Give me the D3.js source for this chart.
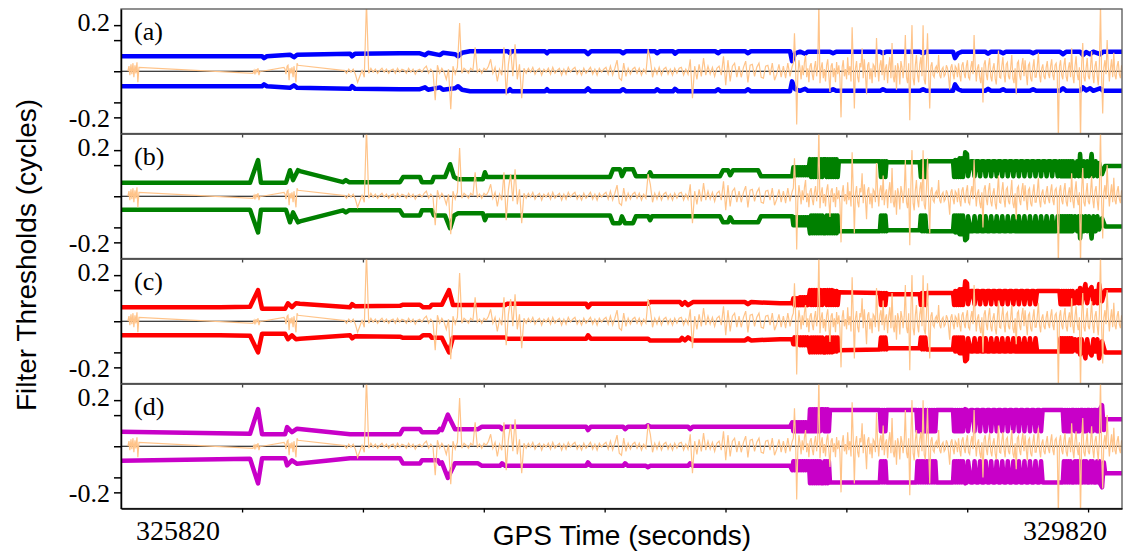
<!DOCTYPE html>
<html lang="en">
<head>
<meta charset="UTF-8">
<title>Filter Thresholds</title>
<script src="https://cdn.jsdelivr.net/npm/d3@7"></script>
<style>
  body { margin: 0; background: #fff; }
  svg { display: block; }
</style>
</head>
<body>
<svg id="chart" width="1124" height="556"></svg>
<script>
// panel names and threshold colours
const panelLabels = ['(a)', '(b)', '(c)', '(d)'];
const panelColors = ['#0000ff', '#008000', '#ff0000', '#c800c8'];

// axis ticks
const yTickValues = [-0.2, -0.135, 0, 0.135, 0.2];
const yLabelValues = [0.2, -0.2];
const xTickValues = [326109, 326654, 327199, 327744, 328289, 328834, 329379, 329924];
const xLabelValues = [325820, 329820];

// threshold half-widths [GPS time, cycles] (drawn as +v and -v)
const thresholdA = [
  [325563,0.065],[326199,0.065],[326208,0.057],[326221,0.065],[326325,0.072],[326343,0.061],[326357,0.072],
  [326596,0.076],[326605,0.065],[326618,0.076],[326821,0.078],[326911,0.078],[326934,0.07],[326948,0.08],
  [327002,0.07],[327015,0.08],[327069,0.074],[327083,0.065],[327101,0.08],[327137,0.087],[327308,0.087],
  [327317,0.078],[327326,0.087],[327475,0.087],[327484,0.078],[327493,0.087],[327655,0.087],[327669,0.074],
  [327683,0.087],[327813,0.087],[327827,0.078],[327841,0.087],[327971,0.087],[327980,0.078],[327994,0.087],
  [328052,0.087],[328061,0.076],[328075,0.087],[328242,0.087],[328255,0.078],[328269,0.087],[328377,0.087],
  [328391,0.078],[328404,0.087],[328580,0.087],[328589,0.044],[328603,0.078],[328625,0.085],[328648,0.076],
  [328661,0.085],[328760,0.085],[328774,0.078],[328788,0.085],[328986,0.085],[328999,0.078],[329013,0.085],
  [329166,0.085],[329180,0.078],[329194,0.085],[329315,0.085],[329324,0.057],[329338,0.078],[329356,0.085],
  [329460,0.085],[329473,0.076],[329487,0.085],[329527,0.085],[329541,0.078],[329554,0.085],[329662,0.085],
  [329676,0.078],[329690,0.085],[329797,0.085],[329811,0.074],[329825,0.085],[329888,0.085],[329901,0.07],
  [329915,0.083],[329933,0.074],[329947,0.085],[329978,0.074],[329992,0.085],[330077,0.085]
];

const thresholdB = [
  [325563,0.059],[326145,0.059],[326181,0.157],[326194,0.059],[326307,0.059],[326325,0.113],[326339,0.07],
  [326361,0.113],[326370,0.109],[326564,0.061],[326577,0.07],[326591,0.061],[326821,0.061],[326835,0.083],
  [326911,0.083],[326920,0.061],[326965,0.061],[326974,0.083],[327024,0.083],[327047,0.139],[327065,0.083],
  [327083,0.074],[327195,0.074],[327204,0.104],[327213,0.083],[327768,0.083],[327782,0.117],[327813,0.117],
  [327822,0.087],[327836,0.117],[327872,0.117],[327885,0.087],[327940,0.087],[327949,0.104],[327958,0.087],
  [328264,0.087],[328278,0.113],[328300,0.113],[328310,0.091],[328323,0.113],[328436,0.113],[328449,0.087],
  [328590,0.087],
  [328595,0.126],[328600,0.091],[328605,0.126],[328610,0.091],[328615,0.126],[328620,0.091],[328625,0.126],
  [328630,0.091],[328635,0.126],[328640,0.091],[328645,0.126],[328650,0.091],[328655,0.126],[328660,0.091],[328665,0.126],
  [328670,0.161],[328675,0.083],[328680,0.161],[328685,0.083],[328690,0.161],[328695,0.083],[328700,0.161],
  [328705,0.083],[328710,0.161],[328715,0.083],[328720,0.161],[328725,0.083],[328730,0.161],[328740,0.161],
  [328745,0.083],[328750,0.161],[328755,0.083],[328760,0.161],[328765,0.083],[328770,0.161],[328775,0.083],
  [328780,0.161],[328785,0.083],[328790,0.161],[328795,0.083],[328800,0.152],
  [328985,0.152],[328990,0.083],[328995,0.152],[329000,0.083],[329005,0.152],[329010,0.083],[329015,0.152],[329020,0.148],
  [329165,0.148],[329170,0.083],[329175,0.152],[329180,0.083],[329185,0.152],[329190,0.083],[329195,0.152],[329200,0.152],
  [329315,0.152],[329320,0.083],[329325,0.157],[329330,0.083],[329335,0.157],[329340,0.083],[329345,0.165],
  [329350,0.083],[329355,0.165],[329360,0.083],[329370,0.191],[329378,0.183],[329383,0.087],
  [329395,0.152],[329405,0.152],[329412,0.087],[329419,0.152],[329430,0.152],[329437,0.087],[329444,0.152],
  [329455,0.152],[329462,0.087],[329469,0.152],[329480,0.152],[329487,0.087],[329494,0.152],[329505,0.152],
  [329512,0.087],[329519,0.152],[329530,0.152],[329537,0.087],[329544,0.152],[329555,0.152],[329562,0.087],
  [329569,0.152],[329580,0.152],[329587,0.087],[329594,0.152],[329605,0.152],[329612,0.087],[329619,0.152],
  [329630,0.152],[329637,0.087],[329644,0.152],[329655,0.152],[329662,0.087],[329669,0.152],[329680,0.152],
  [329687,0.087],[329694,0.152],[329705,0.152],[329712,0.087],[329719,0.152],[329730,0.152],[329737,0.087],
  [329744,0.152],[329755,0.152],[329762,0.087],[329769,0.152],[329780,0.152],[329787,0.087],
  [329795,0.152],[329800,0.087],[329805,0.152],[329810,0.087],[329815,0.152],[329820,0.087],[329825,0.152],
  [329830,0.087],[329835,0.152],[329840,0.087],[329845,0.152],[329850,0.087],[329855,0.152],
  [329865,0.087],[329875,0.152],[329882,0.087],[329888,0.183],[329895,0.087],[329905,0.152],[329912,0.087],
  [329920,0.152],[329928,0.087],[329940,0.183],[329948,0.087],[329958,0.152],[329966,0.087],[329974,0.144],
  [329987,0.096],[330001,0.131],[330077,0.131]
];

const thresholdC = [
  [325563,0.061],[326009,0.061],[326145,0.063],[326181,0.135],[326199,0.054],[326303,0.054],[326316,0.078],
  [326334,0.061],[326352,0.078],[326370,0.076],[326596,0.061],[326605,0.074],[326618,0.065],[326821,0.067],
  [326835,0.072],[326911,0.072],[326925,0.061],[326956,0.061],[326965,0.072],[327010,0.072],[327042,0.135],
  [327060,0.07],[327182,0.07],[327295,0.07],[327304,0.076],[327660,0.076],[327669,0.061],[327682,0.076],
  [327940,0.076],[327949,0.083],[328084,0.083],[328093,0.072],[328106,0.083],[328120,0.07],[328142,0.083],
  [328377,0.083],[328390,0.074],[328404,0.083],[328535,0.078],[328590,0.078],
  [328595,0.1],[328600,0.07],[328605,0.1],[328610,0.07],[328615,0.1],[328620,0.07],[328625,0.104],
  [328630,0.07],[328635,0.104],[328640,0.07],[328645,0.104],[328650,0.07],[328655,0.104],[328660,0.07],[328665,0.104],
  [328670,0.135],[328675,0.07],[328680,0.135],[328685,0.07],[328690,0.135],[328695,0.07],[328700,0.135],
  [328705,0.07],[328710,0.135],[328715,0.07],[328720,0.135],[328725,0.07],[328730,0.135],[328740,0.135],
  [328745,0.07],[328750,0.135],[328755,0.07],[328760,0.135],[328765,0.07],[328770,0.135],[328775,0.07],
  [328780,0.131],[328785,0.07],[328790,0.131],[328795,0.07],[328800,0.126],
  [328985,0.122],[328990,0.07],[328995,0.122],[329000,0.07],[329005,0.122],[329010,0.07],[329015,0.122],[329020,0.117],
  [329165,0.117],[329170,0.07],[329175,0.122],[329180,0.07],[329185,0.122],[329190,0.07],[329195,0.122],[329200,0.122],
  [329315,0.122],[329320,0.07],[329325,0.131],[329330,0.07],[329335,0.131],[329340,0.07],[329345,0.139],
  [329350,0.07],[329355,0.139],[329360,0.07],[329370,0.174],[329378,0.165],[329383,0.074],
  [329395,0.131],[329405,0.131],[329412,0.074],[329419,0.131],[329430,0.131],[329437,0.074],[329444,0.131],
  [329455,0.131],[329462,0.074],[329469,0.131],[329480,0.131],[329487,0.074],[329494,0.131],[329505,0.131],
  [329512,0.074],[329519,0.131],[329530,0.131],[329537,0.074],[329544,0.131],[329555,0.131],[329562,0.074],
  [329569,0.131],[329580,0.131],[329587,0.074],[329594,0.131],[329605,0.131],[329612,0.074],[329619,0.131],
  [329630,0.131],[329637,0.074],[329644,0.131],[329655,0.131],[329662,0.074],[329669,0.131],[329680,0.131],
  [329687,0.074],[329694,0.131],[329787,0.131],
  [329795,0.131],[329800,0.074],[329805,0.131],[329810,0.074],[329815,0.131],[329820,0.074],[329825,0.131],
  [329830,0.074],[329835,0.131],[329840,0.074],[329845,0.131],[329850,0.074],[329855,0.131],
  [329865,0.078],[329875,0.131],[329882,0.078],[329888,0.144],[329895,0.078],[329905,0.131],[329912,0.161],
  [329920,0.078],[329928,0.131],[329940,0.148],[329948,0.078],[329958,0.131],[329966,0.078],[329974,0.161],
  [329987,0.087],[330001,0.135],[330077,0.135]
];

const thresholdD = [
  [325563,0.063],[326145,0.054],[326181,0.161],[326199,0.052],[326303,0.052],[326312,0.083],[326334,0.061],
  [326357,0.076],[326596,0.052],[326821,0.052],[326835,0.075],[326911,0.075],[326920,0.061],[326992,0.061],
  [327001,0.075],[327010,0.07],[327037,0.137],[327069,0.074],[327173,0.074],[327191,0.085],[327272,0.085],
  [327281,0.074],[327295,0.085],[327660,0.085],[327669,0.07],[327682,0.085],[327827,0.085],[327836,0.074],
  [327849,0.085],[327930,0.085],[327940,0.091],[327949,0.085],[328120,0.085],[328129,0.074],[328142,0.085],
  [328580,0.085],
  [328590,0.104],[328595,0.065],[328600,0.104],[328605,0.065],[328610,0.104],[328615,0.065],[328620,0.104],
  [328625,0.065],[328630,0.104],[328635,0.065],[328640,0.104],[328645,0.065],[328650,0.104],[328655,0.065],
  [328660,0.104],[328665,0.065],
  [328670,0.161],[328675,0.065],[328680,0.161],[328685,0.065],[328690,0.161],[328695,0.065],[328700,0.161],
  [328705,0.065],[328710,0.161],[328715,0.065],[328720,0.161],[328730,0.161],[328735,0.065],[328740,0.161],
  [328745,0.065],[328750,0.161],[328755,0.065],[328760,0.157],
  [328985,0.157],[328990,0.065],[328995,0.157],[329000,0.065],[329005,0.157],[329010,0.065],[329015,0.157],[329025,0.157],
  [329150,0.157],[329155,0.065],[329160,0.157],[329165,0.065],[329170,0.157],[329175,0.065],[329180,0.157],
  [329185,0.065],[329190,0.157],[329195,0.065],[329200,0.157],[329205,0.065],[329210,0.157],[329215,0.065],
  [329220,0.157],[329225,0.065],[329230,0.157],[329235,0.065],[329240,0.157],
  [329315,0.157],[329320,0.065],[329325,0.157],[329330,0.065],[329335,0.157],[329340,0.065],[329345,0.157],
  [329350,0.065],[329355,0.157],[329360,0.065],[329370,0.161],[329378,0.157],[329383,0.065],
  [329395,0.157],[329405,0.157],[329412,0.065],[329419,0.157],[329430,0.157],[329437,0.065],[329444,0.157],
  [329455,0.157],[329462,0.065],[329469,0.157],[329480,0.157],[329487,0.065],[329494,0.157],[329505,0.157],
  [329512,0.065],[329519,0.157],[329530,0.157],[329537,0.065],[329544,0.157],[329555,0.157],[329562,0.065],
  [329569,0.157],[329580,0.157],[329587,0.065],[329594,0.157],[329605,0.157],[329612,0.065],[329619,0.157],
  [329630,0.157],[329637,0.065],[329644,0.157],[329655,0.157],[329662,0.065],[329669,0.157],[329680,0.157],
  [329687,0.065],[329694,0.157],[329705,0.157],[329712,0.065],[329719,0.157],
  [329810,0.157],[329815,0.065],[329820,0.157],[329825,0.065],[329830,0.157],[329835,0.065],[329840,0.157],
  [329845,0.065],[329850,0.157],[329860,0.157],[329865,0.065],[329870,0.157],[329875,0.065],[329880,0.157],
  [329885,0.065],[329890,0.157],[329900,0.157],[329905,0.065],[329910,0.157],[329915,0.065],[329920,0.157],
  [329930,0.157],[329935,0.065],[329940,0.157],[329945,0.065],[329950,0.157],[329960,0.157],[329965,0.065],
  [329970,0.157],[329975,0.065],[329980,0.165],[329987,0.178],[329995,0.07],[330001,0.117],[330077,0.117]
];

// filtered residual [GPS time, cycles], same in every panel
const residual = [
  [325594,0],[325599,0.022],[325603,-0.017],[325608,0.03],[325612,-0.013],[325617,0.035],[325621,-0.026],
  [325626,0.026],[325630,-0.009],[325635,0.039],[325639,-0.048],[325644,0.017],
  [326158,-0.009],[326163,0.004],[326167,-0.013],[326172,0.009],[326176,-0.004],[326181,0.013],[326185,-0.017],
  [326190,0],[326199,0],
  [326298,0.017],[326303,0.009],[326307,-0.013],[326312,0.022],[326316,0.026],[326321,-0.039],[326325,0.013],
  [326330,-0.009],[326334,0.017],[326339,-0.026],[326343,0.022],[326348,-0.017],[326352,-0.048],[326357,0.035],
  [326361,0.026],[326564,0.004],
  [326570,0.004],[326580,-0.009],[326590,0.009],[326600,-0.004],[326610,0.009],[326620,-0.013],[326630,-0.048],[326640,-0.022],[326650,0.004],[326660,-0.026],
  [326670,0.3],[326680,-0.009],[326690,0.013],[326700,-0.004],[326710,0.009],[326720,-0.009],[326730,0.004],[326740,0.013],[326750,-0.004],[326760,0.009],
  [326770,-0.009],[326780,0.004],[326790,0.009],[326800,-0.009],[326810,0.013],[326820,-0.004],[326830,0.009],[326840,0.004],[326850,-0.009],[326860,0.013],
  [326870,-0.004],[326880,0.009],[326890,-0.013],[326900,0.004],[326910,0.009],[326920,-0.004],[326930,0.013],[326940,0.022],[326950,-0.009],[326960,0.009],
  [326970,-0.004],[326980,-0.126],[326990,0.026],[327000,-0.009],[327010,0.013],[327020,-0.004],[327030,-0.035],[327040,0.009],[327050,-0.165],[327060,0.022],
  [327070,-0.013],[327080,0.017],[327090,0.209],[327100,-0.009],[327110,0.013],[327120,0.004],[327130,-0.009],[327140,0.013],[327150,0.004],[327160,0.104],
  [327170,-0.004],[327180,0.009],[327190,-0.009],[327200,0.013],[327210,0.004],[327220,0.022],[327230,0.052],[327240,-0.009],[327250,0.017],[327260,-0.044],
  [327270,0.009],[327280,-0.017],[327290,0.104],[327300,-0.104],[327310,0.03],[327320,0.096],[327330,-0.022],[327340,0.117],[327350,-0.035],[327360,0.03],
  [327370,-0.117],[327380,0.013],[327390,-0.009],[327400,0.013],[327410,-0.004],[327420,0.017],[327430,-0.013],[327440,0.004],[327450,0.013],[327460,-0.017],
  [327470,0.009],[327480,-0.004],[327490,0.013],[327500,-0.013],[327510,0.017],[327520,-0.009],[327530,0.004],[327540,0.013],[327550,-0.017],[327560,0.009],
  [327570,-0.013],[327580,0.017],[327590,-0.004],[327600,0.009],[327610,0.017],[327620,-0.013],[327630,0.004],[327640,-0.017],[327650,0.013],[327660,-0.009],
  [327670,0.004],[327680,0.017],[327690,-0.013],[327700,0.009],[327710,-0.017],[327720,0.013],[327730,-0.004],[327740,0.009],[327750,0.017],[327760,-0.013],
  [327770,0.022],[327780,-0.017],[327790,0.013],[327800,0.048],[327810,-0.03],[327820,-0.039],[327830,0.035],[327840,-0.022],[327850,0.013],[327860,-0.013],
  [327870,0.009],[327880,0.017],[327890,-0.009],[327900,0.013],[327910,-0.017],[327920,0.009],[327930,-0.009],[327940,0.096],[327950,0.052],[327960,-0.026],
  [327970,0.013],[327980,-0.013],[327990,0.017],[328000,-0.017],[328010,0.009],[328020,0.017],[328030,-0.013],[328040,0.009],[328050,-0.017],[328060,0.013],
  [328070,-0.009],[328080,0.013],[328090,0.017],[328100,-0.017],[328110,0.009],[328120,-0.013],[328130,0.052],[328140,-0.117],[328150,0.022],[328160,-0.035],
  [328170,0.03],[328180,-0.022],[328190,0.057],[328200,-0.017],[328210,0.022],[328220,-0.013],[328230,0.017],[328240,-0.022],[328250,0.013],[328260,0.022],
  [328270,-0.017],[328280,0.065],[328290,-0.061],[328300,0.048],[328310,-0.044],[328320,0.022],[328330,0.035],[328340,-0.026],[328350,0.022],[328360,-0.026],
  [328370,0.017],[328380,0.044],[328390,-0.048],[328400,0.026],[328410,0.03],[328420,-0.022],[328430,0.017],[328440,0.035],[328450,-0.026],[328460,-0.03],
  [328470,0.022],[328480,0.026],[328490,-0.017],[328500,0.035],[328510,-0.039],[328520,-0.013],[328530,0.03],[328540,-0.026],[328550,0.022],[328560,-0.03],
  [328570,0.035],[328580,-0.022],
  [328590,0.022],[328595,0.035],[328600,0.165],[328605,0.03],[328610,-0.231],[328615,-0.02],[328620,0.048],[328625,0.013],[328630,-0.035],[328635,0.026],
  [328640,-0.017],[328645,0.039],[328650,0.07],[328655,-0.026],[328660,0.013],[328665,-0.048],[328670,0.022],[328675,0.035],[328680,-0.013],[328685,-0.039],
  [328690,0.017],[328695,0.044],[328700,-0.022],[328705,0.03],[328710,0.3],[328715,-0.052],[328720,0.013],[328725,0.039],[328730,-0.03],[328735,0.009],
  [328740,-0.044],[328745,0.026],[328750,0.052],[328755,-0.017],[328760,-0.09],[328765,0.022],[328770,0.035],[328775,-0.026],[328780,0.013],[328785,-0.048],
  [328790,0.04],[328795,-0.013],[328800,0.026],[328805,-0.03],[328810,-0.2],[328815,0.017],[328820,0.048],[328825,-0.022],[328830,0.009],[328835,-0.035],
  [328840,0.061],[328845,-0.017],[328850,0.022],[328855,-0.044],[328860,0.191],[328865,0.03],[328870,-0.161],[328875,0.013],[328880,0.044],[328885,-0.026],
  [328890,-0.048],[328895,0.035],[328900,0.017],[328905,0.1],[328910,-0.03],[328915,0.052],[328920,-0.013],[328925,-0.1],[328930,0.026],[328935,0.039],
  [328940,-0.035],[328945,0.013],[328950,-0.052],[328955,0.03],[328960,0.022],[328965,-0.026],[328970,0.144],[328975,0.017],[328980,-0.044],[328985,0.026],
  [328990,0.048],[328995,-0.017],[329000,0.09],[329005,-0.039],[329010,0.013],[329015,0.03],[329020,-0.052],[329025,0.022],[329030,0.061],[329035,-0.03],
  [329040,0.122],[329045,-0.022],[329050,-0.048],[329055,0.026],[329060,-0.08],[329065,0.035],[329070,0.013],[329075,-0.057],[329080,0.044],[329085,0.017],
  [329090,-0.03],[329095,0.022],[329100,0.157],[329105,-0.026],[329110,-0.052],[329115,0.035],[329120,-0.213],[329125,0.048],[329130,0.2],[329135,-0.03],
  [329140,-0.061],[329145,0.026],[329150,0.07],[329155,-0.017],[329160,-0.048],[329165,0.03],[329170,0.061],[329175,-0.022],[329180,0.2],[329185,-0.035],
  [329190,-0.057],[329195,0.03],[329200,0.165],[329205,-0.013],[329210,-0.161],[329215,0.022],[329220,0.039],[329225,-0.017],[329230,-0.026],[329235,0.013],
  [329240,0.022],[329245,-0.009],[329250,0.07],[329255,-0.017],[329260,-0.03],[329265,0.009],[329270,0.017],[329275,-0.022],[329280,-0.013],[329285,0.026],
  [329290,0.013],[329295,-0.026],[329300,-0.08],[329305,0.017],[329310,0.03],[329315,-0.013],[329320,-0.035],[329325,0.022],[329330,0.013],[329335,-0.026],
  [329340,0.035],[329345,-0.017],[329350,-0.044],[329355,0.026],[329360,0.039],[329365,-0.009],[329370,-0.03],[329375,0.022],[329380,0.048],[329385,-0.026],
  [329390,-0.035],[329395,0.017],[329400,0.044],[329405,-0.013],[329410,0.157],[329415,0.022],[329420,-0.044],[329425,0.013],[329430,0.03],[329435,-0.026],
  [329440,-0.052],[329445,0.017],[329450,-0.135],[329455,0.03],[329460,0.048],[329465,-0.013],[329470,-0.039],[329475,0.026],[329480,0.057],[329485,-0.022],
  [329490,-0.044],[329495,0.013],[329500,0.035],[329505,-0.03],[329510,-0.057],[329515,0.017],[329520,0.09],[329525,-0.026],[329530,-0.03],[329535,0.022],
  [329540,0.061],[329545,-0.013],[329550,-0.048],[329555,0.03],[329560,0.039],[329565,-0.022],[329570,-0.035],[329575,0.017],[329580,0.07],[329585,-0.03],
  [329590,-0.052],[329595,0.013],[329600,-0.1],[329605,0.035],[329610,0.044],[329615,-0.017],[329620,-0.039],[329625,0.026],[329630,0.057],[329635,-0.022],
  [329640,0.048],[329645,-0.013],[329650,-0.061],[329655,0.026],[329660,0.035],[329665,-0.03],[329670,-0.044],[329675,0.017],[329680,0.052],[329685,-0.026],
  [329690,-0.026],[329695,0.022],[329700,0.08],[329705,-0.017],[329710,-0.048],[329715,0.013],[329720,0.03],[329725,-0.022],[329730,-0.035],[329735,0.017],
  [329740,0.044],[329745,-0.013],[329750,-0.03],[329755,0.022],[329760,0.052],[329765,-0.017],[329770,-0.039],[329775,0.026],[329780,0.035],[329785,-0.013],
  [329790,-0.3],[329795,0.022],[329800,0.048],[329805,-0.017],[329810,-0.035],[329815,0.026],[329820,0.057],[329825,-0.022],[329830,-0.044],[329835,0.013],
  [329840,0.039],[329845,-0.026],[329850,0.1],[329855,-0.017],[329860,-0.052],[329865,0.022],[329870,0.065],[329875,-0.013],[329880,-0.039],[329885,0.017],
  [329890,-0.3],[329895,0.03],[329900,0.122],[329905,-0.026],[329910,-0.044],[329915,0.013],[329920,0.057],[329925,-0.022],[329930,-0.035],[329935,0.017],
  [329940,0.087],[329945,-0.013],[329950,-0.052],[329955,0.022],[329960,0.044],[329965,-0.017],[329970,-0.061],[329975,0.03],[329980,0.3],[329985,-0.022],
  [329990,-0.183],[329995,0.017],[330000,0.048],[330005,-0.013],[330010,0.135],[330015,0.022],[330020,-0.044],[330025,0.013],[330030,0.052],[330035,-0.026],
  [330040,0.08],[330045,-0.017],[330050,-0.035],[330055,0.022],[330060,0.044],[330065,-0.013],[330070,-0.03],[330075,0.026]
];

const thresholds = [thresholdA, thresholdB, thresholdC, thresholdD];

const svg = d3.select('#chart');
const left = 121, right = 1122;
const panelTops = [9, 134, 259, 384];
const panelH = 124.5;

const x = d3.scaleLinear().domain([325563, 330077]).range([left, right]);

panelTops.forEach((top, i) => {
  const y = d3.scaleLinear().domain([-0.27, 0.27]).range([top + panelH, top]);
  const g = svg.append('g');

  svg.append('clipPath').attr('id', 'clip' + i)
    .append('rect')
    .attr('x', left).attr('y', top)
    .attr('width', right - left).attr('height', panelH);

  const plot = g.append('g').attr('clip-path', `url(#clip${i})`);

  // zero line
  plot.append('line')
    .attr('x1', left).attr('x2', right)
    .attr('y1', y(0)).attr('y2', y(0))
    .attr('stroke', '#000').attr('stroke-width', 1.2);

  const upper = d3.line().x(d => x(d[0])).y(d => y(d[1]));
  const lower = d3.line().x(d => x(d[0])).y(d => y(-d[1]));

  [upper, lower].forEach(gen => {
    plot.append('path')
      .datum(thresholds[i])
      .attr('d', gen)
      .attr('fill', 'none')
      .attr('stroke', panelColors[i])
      .attr('stroke-width', 4.5)
      .attr('stroke-linejoin', 'round');
  });

  plot.append('path')
    .datum(residual)
    .attr('d', upper)
    .attr('fill', 'none')
    .attr('stroke', '#ffc48a')
    .attr('stroke-width', 1.2);

  // frame
  g.append('rect')
    .attr('x', left).attr('y', top)
    .attr('width', right - left).attr('height', panelH)
    .attr('fill', 'none').attr('stroke', '#555').attr('stroke-width', 1.3);

  // left axis
  const ya = g.append('g')
    .attr('transform', `translate(${left},0)`)
    .call(d3.axisLeft(y).tickValues(yTickValues).tickSize(7).tickSizeOuter(0).tickFormat(''));
  ya.selectAll('path, line').attr('stroke', '#000').attr('stroke-width', 1.5);

  // bottom ticks
  const xa = g.append('g')
    .attr('transform', `translate(0,${top + panelH})`)
    .call(d3.axisBottom(x).tickValues(xTickValues).tickSize(4).tickSizeOuter(0).tickFormat(''));
  xa.selectAll('path, line').attr('stroke', i === 3 ? '#000' : '#444').attr('stroke-width', 1.3);

  // y labels
  g.selectAll('text.ylab')
    .data(yLabelValues)
    .join('text')
    .attr('class', 'ylab')
    .attr('x', 110)
    .attr('y', d => y(d) + (d > 0 ? 6 : 10))
    .attr('text-anchor', 'end')
    .attr('font-family', '"Liberation Serif", "Times New Roman", serif')
    .attr('font-size', 26)
    .text(d => d.toFixed(1));

  // panel label
  g.append('text')
    .attr('x', 134)
    .attr('y', top + 31)
    .attr('font-family', '"Liberation Serif", "Times New Roman", serif')
    .attr('font-size', 26)
    .text(panelLabels[i]);
});

// x tick labels
svg.selectAll('text.xlab')
  .data(xLabelValues)
  .join('text')
  .attr('class', 'xlab')
  .attr('x', d => x(d))
  .attr('y', 540)
  .attr('text-anchor', 'middle')
  .attr('font-family', '"Liberation Serif", "Times New Roman", serif')
  .attr('font-size', 28)
  .text(d => d);

// axis titles
svg.append('text')
  .attr('x', 622)
  .attr('y', 545)
  .attr('text-anchor', 'middle')
  .attr('font-family', '"Liberation Sans", Arial, sans-serif')
  .attr('font-size', 28)
  .text('GPS Time (seconds)');

svg.append('text')
  .attr('transform', 'translate(36,255) rotate(-90)')
  .attr('text-anchor', 'middle')
  .attr('font-family', '"Liberation Sans", Arial, sans-serif')
  .attr('font-size', 28)
  .text('Filter Thresholds (cycles)');
</script>
</body>
</html>
